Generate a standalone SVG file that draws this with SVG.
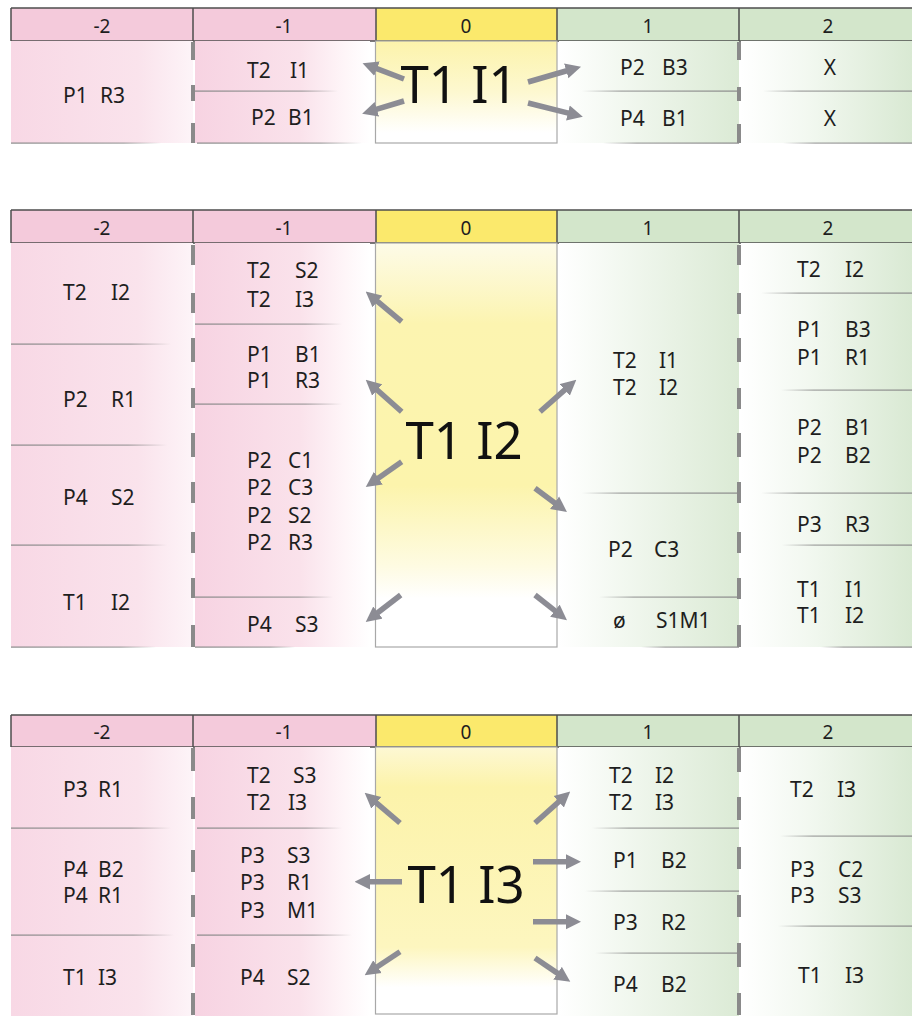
<svg xmlns="http://www.w3.org/2000/svg" width="912" height="1016" viewBox="0 0 912 1016">
<style>
.t{font-family:"Noto Sans","DejaVu Sans",sans-serif;font-size:21px;fill:#1e1e1e}
.h{font-family:"Noto Sans","DejaVu Sans",sans-serif;font-size:19px;fill:#1e1e1e;text-anchor:middle}
.big{font-family:"Noto Sans","DejaVu Sans",sans-serif;font-size:51px;fill:#111;text-anchor:middle}
.hb{stroke:#4d4d4d;stroke-width:1.5;fill:none}
.pk{fill:#f4cadb}.yl{fill:#fbe96c}.gr{fill:#d3e6cb}
.cA{fill:url(#pinkA)}.cB{fill:url(#pinkB)}.cC{fill:url(#greenA)}.cD{fill:url(#greenB)}
.c0{stroke:#a8a8a8;stroke-width:1.2}
.lL{fill:url(#lineL)}.lR{fill:url(#lineR)}
.dash{stroke:#8a8a8a;stroke-width:4;fill:none}
.arr{stroke:#8c8c94;stroke-width:5.5;fill:none;marker-end:url(#ah)}
</style>
<defs>
<linearGradient id="pinkA" x1="0" y1="0" x2="1" y2="0"><stop offset="0" stop-color="#f8d8e5"/><stop offset="0.7" stop-color="#fae3ec"/><stop offset="1" stop-color="#fdf4f8"/></linearGradient>
<linearGradient id="pinkB" x1="0" y1="0" x2="1" y2="0"><stop offset="0" stop-color="#f7d3e2"/><stop offset="0.6" stop-color="#fae2eb"/><stop offset="0.85" stop-color="#fef5f8"/><stop offset="1" stop-color="#ffffff"/></linearGradient>
<linearGradient id="greenA" x1="0" y1="0" x2="1" y2="0"><stop offset="0" stop-color="#ffffff"/><stop offset="0.3" stop-color="#f4f9f2"/><stop offset="1" stop-color="#dbead5"/></linearGradient>
<linearGradient id="greenB" x1="0" y1="0" x2="1" y2="0"><stop offset="0" stop-color="#ffffff"/><stop offset="0.4" stop-color="#f2f8f0"/><stop offset="1" stop-color="#d9e9d3"/></linearGradient>
<linearGradient id="yel1" x1="0" y1="0" x2="0" y2="1"><stop offset="0" stop-color="#fcf3ab"/><stop offset="0.5" stop-color="#fdf8d0"/><stop offset="0.9" stop-color="#ffffff"/></linearGradient>
<linearGradient id="yel2" x1="0" y1="0" x2="0" y2="1"><stop offset="0" stop-color="#fdfbe8"/><stop offset="0.2" stop-color="#fcf4b0"/><stop offset="0.6" stop-color="#fcf4ac"/><stop offset="0.8" stop-color="#fefbe2"/><stop offset="0.88" stop-color="#ffffff"/></linearGradient>
<linearGradient id="yel3" x1="0" y1="0" x2="0" y2="1"><stop offset="0" stop-color="#fdf8d4"/><stop offset="0.15" stop-color="#fcf3aa"/><stop offset="0.75" stop-color="#fdf6bf"/><stop offset="0.9" stop-color="#ffffff"/></linearGradient>
<linearGradient id="lineL" x1="0" y1="0" x2="1" y2="0"><stop offset="0" stop-color="#8a8a8a"/><stop offset="0.75" stop-color="#8a8a8a" stop-opacity="0.8"/><stop offset="1" stop-color="#8a8a8a" stop-opacity="0"/></linearGradient>
<linearGradient id="lineR" x1="0" y1="0" x2="1" y2="0"><stop offset="0" stop-color="#8a8a8a" stop-opacity="0"/><stop offset="0.25" stop-color="#8a8a8a" stop-opacity="0.8"/><stop offset="1" stop-color="#8a8a8a"/></linearGradient>
<marker id="ah" viewBox="0 0 10 10" refX="1" refY="5" markerWidth="2.8" markerHeight="3" orient="auto" markerUnits="strokeWidth"><path d="M0,0 L10,5 L0,10 z" fill="#8c8c94"/></marker>
</defs>
<rect width="912" height="1016" fill="#ffffff"/>

<!-- ===== Panel 1 ===== -->
<g id="p1-header">
<rect x="11" y="8" width="182" height="33" class="pk"/><rect x="193" y="8" width="183" height="33" class="pk"/>
<rect x="376" y="8" width="181" height="33" class="yl"/><rect x="557" y="8" width="182" height="33" class="gr"/><rect x="739" y="8" width="173" height="33" class="gr"/>
<path class="hb" d="M11 8H912M11 41H912M11 8V41M193 8V41M376 8V41M557 8V41M739 8V41"/>
<text class="h" x="102" y="33">-2</text><text class="h" x="284" y="33">-1</text><text class="h" x="466" y="33">0</text><text class="h" x="648" y="33">1</text><text class="h" x="828" y="33">2</text>
</g>
<g id="p1-m2-a"><rect class="cA" x="11" y="41" width="182" height="102"/><text class="t" y="103"><tspan x="63">P1</tspan><tspan x="100">R3</tspan></text></g>
<g id="p1-m1-a"><rect class="cB" x="195" y="41" width="175" height="50"/><text class="t" y="78"><tspan x="247">T2</tspan><tspan x="290">I1</tspan></text></g>
<g id="p1-m1-b"><rect class="cB" x="195" y="91" width="175" height="52"/><text class="t" y="125"><tspan x="251">P2</tspan><tspan x="288">B1</tspan></text></g>
<g id="p1-center"><rect class="c0" x="375.5" y="41" width="181.5" height="102" fill="url(#yel1)"/><text class="big" x="459" y="103">T1 I1</text></g>
<g id="p1-p1-a"><rect class="cC" x="559" y="41" width="180" height="50"/><text class="t" y="75"><tspan x="620">P2</tspan><tspan x="662">B3</tspan></text></g>
<g id="p1-p1-b"><rect class="cC" x="559" y="91" width="180" height="52"/><text class="t" y="126"><tspan x="620">P4</tspan><tspan x="662">B1</tspan></text></g>
<g id="p1-p2-a"><rect class="cD" x="741" y="41" width="171" height="50"/><text class="t" x="830" y="75" text-anchor="middle">X</text></g>
<g id="p1-p2-b"><rect class="cD" x="741" y="91" width="171" height="52"/><text class="t" x="830" y="126" text-anchor="middle">X</text></g>
<g id="p1-grid">
<rect class="lL" x="11" y="142.5" width="150" height="1.2"/>
<rect class="lL" x="193" y="90.5" width="145" height="1.2"/><rect class="lL" x="197" y="142.5" width="165" height="1.2"/>
<rect class="lR" x="582" y="90.5" width="157" height="1.2"/><rect class="lR" x="603" y="142.5" width="136" height="1.2"/>
<rect class="lR" x="763" y="90.5" width="149" height="1.2"/><rect class="lR" x="783" y="142.5" width="129" height="1.2"/>
<path class="dash" d="M193 42V60M193 85V101M193 123V143M739 42V60M739 87V101M739 124V143"/>
</g>

<!-- ===== Panel 2 ===== -->
<g id="p2-header">
<rect x="11" y="210" width="182" height="33" class="pk"/><rect x="193" y="210" width="183" height="33" class="pk"/>
<rect x="376" y="210" width="181" height="33" class="yl"/><rect x="557" y="210" width="182" height="33" class="gr"/><rect x="739" y="210" width="173" height="33" class="gr"/>
<path class="hb" d="M11 210H912M11 243H912M11 210V243M193 210V243M376 210V243M557 210V243M739 210V243"/>
<text class="h" x="102" y="235">-2</text><text class="h" x="284" y="235">-1</text><text class="h" x="466" y="235">0</text><text class="h" x="648" y="235">1</text><text class="h" x="828" y="235">2</text>
</g>
<g id="p2-m2-a"><rect class="cA" x="11" y="243" width="182" height="101"/><text class="t" y="300"><tspan x="63">T2</tspan><tspan x="111">I2</tspan></text></g>
<g id="p2-m2-b"><rect class="cA" x="11" y="344" width="182" height="101"/><text class="t" y="406.7"><tspan x="63">P2</tspan><tspan x="111">R1</tspan></text></g>
<g id="p2-m2-c"><rect class="cA" x="11" y="445" width="182" height="100"/><text class="t" y="505"><tspan x="63">P4</tspan><tspan x="111">S2</tspan></text></g>
<g id="p2-m2-d"><rect class="cA" x="11" y="545" width="182" height="102"/><text class="t" y="610"><tspan x="63">T1</tspan><tspan x="111">I2</tspan></text></g>
<g id="p2-m1-a"><rect class="cB" x="195" y="243" width="175" height="81"/><text class="t" y="278"><tspan x="247">T2</tspan><tspan x="295">S2</tspan></text><text class="t" y="306.7"><tspan x="247">T2</tspan><tspan x="295">I3</tspan></text></g>
<g id="p2-m1-b"><rect class="cB" x="195" y="324" width="175" height="80"/><text class="t" y="361.7"><tspan x="247">P1</tspan><tspan x="295">B1</tspan></text><text class="t" y="388.3"><tspan x="247">P1</tspan><tspan x="295">R3</tspan></text></g>
<g id="p2-m1-c"><rect class="cB" x="195" y="404" width="175" height="193"/>
<text class="t" y="468.3"><tspan x="247">P2</tspan><tspan x="288">C1</tspan></text><text class="t" y="495"><tspan x="247">P2</tspan><tspan x="288">C3</tspan></text><text class="t" y="523"><tspan x="247">P2</tspan><tspan x="288">S2</tspan></text><text class="t" y="550"><tspan x="247">P2</tspan><tspan x="288">R3</tspan></text></g>
<g id="p2-m1-d"><rect class="cB" x="195" y="597" width="175" height="50"/><text class="t" y="631.7"><tspan x="247">P4</tspan><tspan x="295">S3</tspan></text></g>
<g id="p2-center"><rect class="c0" x="375.5" y="243" width="181.5" height="404" fill="url(#yel2)"/><text class="big" x="464" y="459">T1 I2</text></g>
<g id="p2-p1-a"><rect class="cC" x="559" y="243" width="180" height="250"/><text class="t" y="368.3"><tspan x="613">T2</tspan><tspan x="659">I1</tspan></text><text class="t" y="395"><tspan x="613">T2</tspan><tspan x="659">I2</tspan></text></g>
<g id="p2-p1-b"><rect class="cC" x="559" y="493" width="180" height="104"/><text class="t" y="556.7"><tspan x="608">P2</tspan><tspan x="654">C3</tspan></text></g>
<g id="p2-p1-c"><rect class="cC" x="559" y="597" width="180" height="50"/><text class="t" y="628"><tspan x="613">ø</tspan><tspan x="656">S1M1</tspan></text></g>
<g id="p2-p2-a"><rect class="cD" x="741" y="243" width="171" height="50"/><text class="t" y="276.7"><tspan x="797">T2</tspan><tspan x="845">I2</tspan></text></g>
<g id="p2-p2-b"><rect class="cD" x="741" y="293" width="171" height="97"/><text class="t" y="336.7"><tspan x="797">P1</tspan><tspan x="845">B3</tspan></text><text class="t" y="365"><tspan x="797">P1</tspan><tspan x="845">R1</tspan></text></g>
<g id="p2-p2-c"><rect class="cD" x="741" y="390" width="171" height="103"/><text class="t" y="435"><tspan x="797">P2</tspan><tspan x="845">B1</tspan></text><text class="t" y="463.3"><tspan x="797">P2</tspan><tspan x="845">B2</tspan></text></g>
<g id="p2-p2-d"><rect class="cD" x="741" y="493" width="171" height="52"/><text class="t" y="531.7"><tspan x="797">P3</tspan><tspan x="845">R3</tspan></text></g>
<g id="p2-p2-e"><rect class="cD" x="741" y="545" width="171" height="102"/><text class="t" y="596.7"><tspan x="797">T1</tspan><tspan x="845">I1</tspan></text><text class="t" y="623.3"><tspan x="797">T1</tspan><tspan x="845">I2</tspan></text></g>
<g id="p2-grid">
<rect class="lL" x="11" y="343.5" width="160" height="1.2"/><rect class="lL" x="11" y="444.5" width="156" height="1.2"/><rect class="lL" x="11" y="544.5" width="156" height="1.2"/><rect class="lL" x="11" y="646.5" width="145" height="1.2"/>
<rect class="lL" x="195" y="323.5" width="147" height="1.2"/><rect class="lL" x="195" y="403.5" width="147" height="1.2"/><rect class="lL" x="195" y="596.5" width="138" height="1.2"/><rect class="lL" x="195" y="646.5" width="100" height="1.2"/>
<rect class="lR" x="582" y="492.5" width="157" height="1.2"/><rect class="lR" x="599" y="596.5" width="140" height="1.2"/><rect class="lR" x="641" y="646.5" width="98" height="1.2"/>
<rect class="lR" x="761" y="292.5" width="151" height="1.2"/><rect class="lR" x="781" y="389.5" width="131" height="1.2"/><rect class="lR" x="761" y="492.5" width="151" height="1.2"/><rect class="lR" x="782" y="544.5" width="130" height="1.2"/><rect class="lR" x="821" y="646.5" width="91" height="1.2"/>
<path class="dash" d="M193 245V265M193 293V313M193 338V362M193 388V408M193 433V457M193 482V503M193 532V553M193 578V598M193 625V647M739 245V265M739 293V314M739 338V362M739 388V409M739 433V457M739 482V503M739 532V553M739 578V599M739 625V647"/>
</g>

<!-- ===== Panel 3 ===== -->
<g id="p3-header">
<rect x="11" y="715" width="182" height="32" class="pk"/><rect x="193" y="715" width="183" height="32" class="pk"/>
<rect x="376" y="715" width="181" height="32" class="yl"/><rect x="557" y="715" width="182" height="32" class="gr"/><rect x="739" y="715" width="173" height="32" class="gr"/>
<path class="hb" d="M11 715H912M11 747H912M11 715V747M193 715V747M376 715V747M557 715V747M739 715V747"/>
<text class="h" x="102" y="739">-2</text><text class="h" x="284" y="739">-1</text><text class="h" x="466" y="739">0</text><text class="h" x="648" y="739">1</text><text class="h" x="828" y="739">2</text>
</g>
<g id="p3-m2-a"><rect class="cA" x="11" y="747" width="182" height="81"/><text class="t" y="796.7"><tspan x="63">P3</tspan><tspan x="98">R1</tspan></text></g>
<g id="p3-m2-b"><rect class="cA" x="11" y="828" width="182" height="107"/><text class="t" y="876.7"><tspan x="63">P4</tspan><tspan x="98">B2</tspan></text><text class="t" y="903.3"><tspan x="63">P4</tspan><tspan x="98">R1</tspan></text></g>
<g id="p3-m2-c"><rect class="cA" x="11" y="935" width="182" height="81"/><text class="t" y="985"><tspan x="63">T1</tspan><tspan x="98">I3</tspan></text></g>
<g id="p3-m1-a"><rect class="cB" x="195" y="747" width="175" height="81"/><text class="t" y="783.3"><tspan x="247">T2</tspan><tspan x="293">S3</tspan></text><text class="t" y="810"><tspan x="247">T2</tspan><tspan x="288">I3</tspan></text></g>
<g id="p3-m1-b"><rect class="cB" x="195" y="828" width="175" height="107"/><text class="t" y="863.3"><tspan x="240">P3</tspan><tspan x="287">S3</tspan></text><text class="t" y="890"><tspan x="240">P3</tspan><tspan x="287">R1</tspan></text><text class="t" y="918.3"><tspan x="240">P3</tspan><tspan x="287">M1</tspan></text></g>
<g id="p3-m1-c"><rect class="cB" x="195" y="935" width="175" height="81"/><text class="t" y="985"><tspan x="240">P4</tspan><tspan x="287">S2</tspan></text></g>
<g id="p3-center"><rect class="c0" x="375.5" y="747" width="181.5" height="267" fill="url(#yel3)"/><text class="big" x="466" y="903">T1 I3</text></g>
<g id="p3-p1-a"><rect class="cC" x="559" y="747" width="180" height="81"/><text class="t" y="783.3"><tspan x="609">T2</tspan><tspan x="655">I2</tspan></text><text class="t" y="810"><tspan x="609">T2</tspan><tspan x="655">I3</tspan></text></g>
<g id="p3-p1-b"><rect class="cC" x="559" y="828" width="180" height="63"/><text class="t" y="868.3"><tspan x="613">P1</tspan><tspan x="661">B2</tspan></text></g>
<g id="p3-p1-c"><rect class="cC" x="559" y="891" width="180" height="62"/><text class="t" y="930"><tspan x="613">P3</tspan><tspan x="661">R2</tspan></text></g>
<g id="p3-p1-d"><rect class="cC" x="559" y="953" width="180" height="63"/><text class="t" y="991.7"><tspan x="613">P4</tspan><tspan x="661">B2</tspan></text></g>
<g id="p3-p2-a"><rect class="cD" x="741" y="747" width="171" height="89"/><text class="t" y="796.7"><tspan x="790">T2</tspan><tspan x="837">I3</tspan></text></g>
<g id="p3-p2-b"><rect class="cD" x="741" y="836" width="171" height="90"/><text class="t" y="876.7"><tspan x="790">P3</tspan><tspan x="838">C2</tspan></text><text class="t" y="903.3"><tspan x="790">P3</tspan><tspan x="838">S3</tspan></text></g>
<g id="p3-p2-c"><rect class="cD" x="741" y="926" width="171" height="90"/><text class="t" y="983.3"><tspan x="798">T1</tspan><tspan x="845">I3</tspan></text></g>
<g id="p3-grid">
<rect class="lL" x="11" y="827.5" width="160" height="1.2"/><rect class="lL" x="11" y="934.5" width="163" height="1.2"/>
<rect class="lL" x="197" y="827.5" width="145" height="1.2"/><rect class="lL" x="197" y="934.5" width="155" height="1.2"/>
<rect class="lR" x="592" y="827.5" width="147" height="1.2"/><rect class="lR" x="585" y="890.5" width="154" height="1.2"/><rect class="lR" x="595" y="952.5" width="144" height="1.2"/>
<rect class="lR" x="780" y="835.5" width="132" height="1.2"/><rect class="lR" x="778" y="925.5" width="134" height="1.2"/>
<path class="dash" d="M193 748V771M193 797V819M193 850V872M193 895V917M193 944V967M193 993V1015M739 748V772M739 797V820M739 847V869M739 895V917M739 943V967M739 993V1015"/>
</g>

<!-- ===== Connectors ===== -->
<g id="connectors">
<line class="arr" x1="404" y1="79" x2="375.5" y2="68.1"/>
<line class="arr" x1="404" y1="101" x2="375.4" y2="109.7"/>
<line class="arr" x1="528" y1="82" x2="567.7" y2="70.5"/>
<line class="arr" x1="528" y1="103" x2="569.4" y2="113.3"/>

<line class="arr" x1="401.7" y1="321.7" x2="376.3" y2="300.4"/>
<line class="arr" x1="401.7" y1="411.7" x2="376.1" y2="389"/>
<line class="arr" x1="401.7" y1="461.7" x2="377.1" y2="479"/>
<line class="arr" x1="400.7" y1="595" x2="376.7" y2="613.5"/>
<line class="arr" x1="540" y1="411.7" x2="565.9" y2="388.9"/>
<line class="arr" x1="535" y1="488.3" x2="555.8" y2="503.7"/>
<line class="arr" x1="535" y1="595" x2="556.1" y2="611.6"/>

<line class="arr" x1="400" y1="823" x2="375.2" y2="801.8"/>
<line class="arr" x1="402" y1="881.7" x2="368.5" y2="881.7"/>
<line class="arr" x1="400" y1="951.7" x2="376.2" y2="967.5"/>
<line class="arr" x1="535" y1="823" x2="559.9" y2="800.7"/>
<line class="arr" x1="533" y1="861.7" x2="567.2" y2="861.7"/>
<line class="arr" x1="533" y1="921.7" x2="567.2" y2="921.7"/>
<line class="arr" x1="535" y1="958" x2="558.8" y2="974.1"/>
</g>
</svg>
